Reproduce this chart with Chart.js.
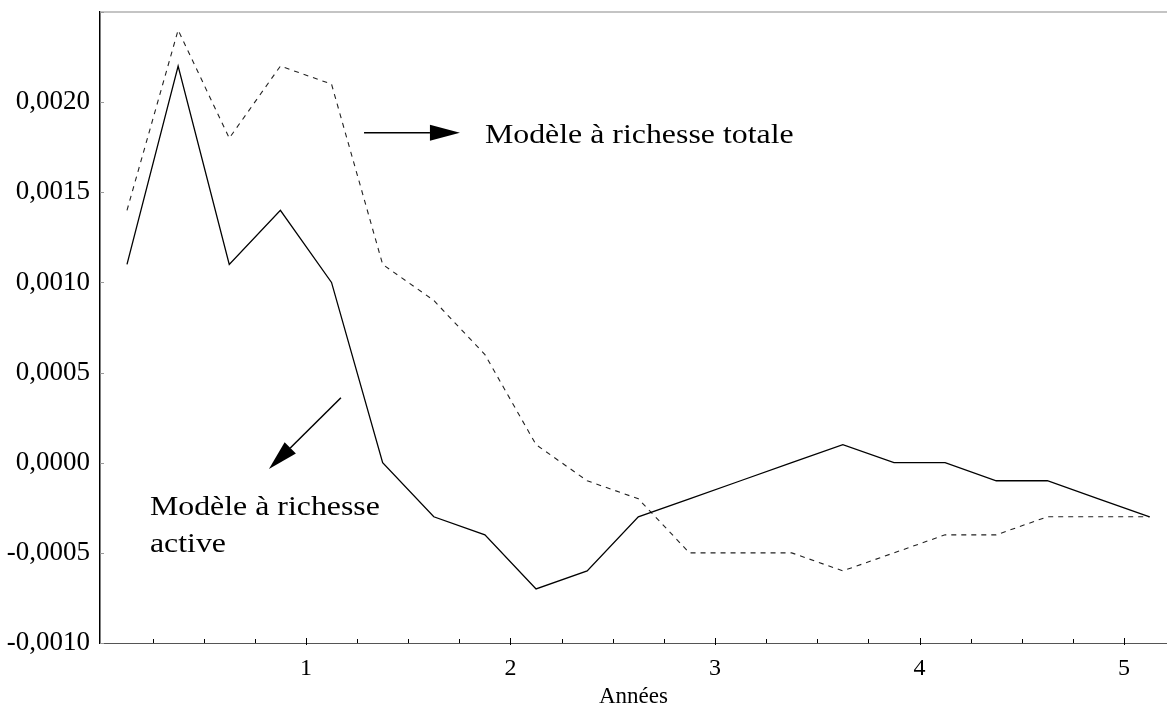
<!DOCTYPE html>
<html>
<head>
<meta charset="utf-8">
<script src="https://cdn.jsdelivr.net/npm/chart.js@4.4.1/dist/chart.umd.min.js"></script>
<style>
  html, body { margin: 0; padding: 0; background: #fff; }
  #chart { display: block; }
</style>
</head>
<body>
<canvas id="chart" width="1167" height="708"></canvas>
<script>
// Years (quarter midpoints)
const years = [0.125, 0.375, 0.625, 0.875, 1.125, 1.375, 1.625, 1.875, 2.125, 2.375, 2.625,
               2.875, 3.125, 3.375, 3.625, 3.875, 4.125, 4.375, 4.625, 4.875, 5.125];

// Modèle à richesse active (solid)
const richesseActive = [0.0011, 0.0022, 0.0011, 0.0014, 0.0010, 0.0000, -0.0003, -0.0004, -0.0007, -0.0006, -0.0003,
                        -0.0002, -0.0001, 0.0000, 0.0001, 0.0000, 0.0000, -0.0001, -0.0001, -0.0002, -0.0003];

// Modèle à richesse totale (dashed)
const richesseTotale = [0.0014, 0.0024, 0.0018, 0.0022, 0.0021, 0.0011, 0.0009, 0.0006, 0.0001, -0.0001, -0.0002,
                        -0.0005, -0.0005, -0.0005, -0.0006, -0.0005, -0.0004, -0.0004, -0.0003, -0.0003, -0.0003];

const yTicks = [-0.0010, -0.0005, 0.0000, 0.0005, 0.0010, 0.0015, 0.0020];
const xLabels = [1, 2, 3, 4, 5];

// annotations, in data units (text position = left edge / baseline of first line)
const notes = [
    { lines: ['Modèle à richesse totale'], x: 1.875, y: 0.001774, arrowFrom: [1.284, 0.00183], arrowTo: [1.753, 0.00183] },
    { lines: ['Modèle à richesse', 'active'], x: 0.237, y: -0.000292, arrowFrom: [1.171, 0.00036], arrowTo: [0.819, -0.000035] }
];

const serif = "'Liberation Serif', 'Times New Roman', serif";

function pts(vals) {
    return years.map((x, i) => ({ x, y: vals[i] }));
}

function drawArrow(ctx, x1, y1, x2, y2) {
    const ang = Math.atan2(y2 - y1, x2 - x1);
    const len = 30, half = 8;
    const bx = x2 - len * Math.cos(ang), by = y2 - len * Math.sin(ang);
    ctx.beginPath();
    ctx.moveTo(x1, y1);
    ctx.lineTo(bx, by);
    ctx.stroke();
    ctx.beginPath();
    ctx.moveTo(x2, y2);
    ctx.lineTo(bx - half * Math.sin(ang), by + half * Math.cos(ang));
    ctx.lineTo(bx + half * Math.sin(ang), by - half * Math.cos(ang));
    ctx.closePath();
    ctx.fill();
}

const decorations = {
    id: 'decorations',
    afterDraw(chart) {
        const ctx = chart.ctx;
        const xs = chart.scales.x, ys = chart.scales.y;
        const area = chart.chartArea;
        ctx.save();

        // top frame line
        ctx.strokeStyle = '#b0b0b0';
        ctx.lineWidth = 1.5;
        ctx.beginPath();
        ctx.moveTo(area.left, area.top);
        ctx.lineTo(area.right, area.top);
        ctx.stroke();

        // x tick marks (inside)
        ctx.strokeStyle = '#000';
        ctx.lineWidth = 1;
        xs.ticks.forEach(t => {
            if (t.value <= 0.01 || t.value >= xs.max) return;
            const px = Math.round(xs.getPixelForValue(t.value)) + 0.5;
            const major = Math.abs(t.value - Math.round(t.value)) < 1e-6;
            ctx.beginPath();
            ctx.moveTo(px, area.bottom + (major ? 2 : 0));
            ctx.lineTo(px, area.bottom - (major ? 5 : 4));
            ctx.stroke();
        });

        // y tick marks (inside)
        ctx.strokeStyle = '#999';
        ys.ticks.forEach(t => {
            const py = Math.round(ys.getPixelForValue(t.value)) + 0.5;
            ctx.beginPath();
            ctx.moveTo(area.left, py);
            ctx.lineTo(area.left + 4, py);
            ctx.stroke();
        });

        // annotations
        ctx.fillStyle = '#000';
        ctx.strokeStyle = '#000';
        ctx.lineWidth = 1.5;
        notes.forEach(n => {
            const tx = xs.getPixelForValue(n.x);
            const ty = ys.getPixelForValue(n.y);
            ctx.save();
            ctx.translate(tx, ty);
            ctx.scale(1.18, 1);
            ctx.font = '27px ' + serif;
            ctx.textAlign = 'left';
            ctx.textBaseline = 'alphabetic';
            n.lines.forEach((l, i) => ctx.fillText(l, 0, i * 37));
            ctx.restore();
            drawArrow(ctx,
                xs.getPixelForValue(n.arrowFrom[0]), ys.getPixelForValue(n.arrowFrom[1]),
                xs.getPixelForValue(n.arrowTo[0]), ys.getPixelForValue(n.arrowTo[1]));
        });
        ctx.restore();
    }
};

function noPad(s) {
    s.paddingTop = 0;
    s.paddingBottom = 0;
    s.paddingLeft = 0;
    s.paddingRight = 0;
}

new Chart(document.getElementById('chart'), {
    type: 'line',
    data: {
        datasets: [{
            label: 'Modèle à richesse active',
            data: pts(richesseActive),
            borderColor: '#000',
            borderWidth: 1.3,
            pointRadius: 0,
            tension: 0
        }, {
            label: 'Modèle à richesse totale',
            data: pts(richesseTotale),
            borderColor: '#222',
            borderWidth: 1.1,
            borderDash: [5, 5],
            pointRadius: 0,
            tension: 0
        }]
    },
    plugins: [decorations],
    options: {
        responsive: false,
        devicePixelRatio: 1,
        animation: false,
        layout: { padding: { top: 12, right: 0, left: 0, bottom: 0 } },
        plugins: {
            legend: { display: false },
            tooltip: { enabled: false }
        },
        scales: {
            x: {
                type: 'linear',
                min: -0.007,
                max: 5.21,
                afterFit: s => { s.height = 65; noPad(s); },
                ticks: {
                    stepSize: 0.25,
                    includeBounds: false,
                    autoSkip: false,
                    maxRotation: 0,
                    padding: 11,
                    color: '#000',
                    font: { family: serif, size: 24 },
                    callback: v => xLabels.some(l => Math.abs(l - v) < 1e-6) ? String(Math.round(v)) : ''
                },
                grid: { drawOnChartArea: false, drawTicks: false },
                border: { color: '#555', width: 1 },
                title: {
                    display: true,
                    text: 'Années',
                    color: '#000',
                    font: { family: serif, size: 23, lineHeight: 1 },
                    padding: { top: 0, bottom: 0 }
                }
            },
            y: {
                min: -0.001,
                max: 0.0025,
                afterFit: s => { s.width = 100; noPad(s); },
                ticks: {
                    stepSize: 0.0005,
                    padding: 10,
                    color: '#000',
                    font: { family: serif, size: 27 },
                    callback: v => yTicks.some(t => Math.abs(t - v) < 1e-9) ? v.toFixed(4).replace('.', ',') : ''
                },
                grid: { drawOnChartArea: false, drawTicks: false },
                border: { color: '#000', width: 1.5 }
            }
        }
    }
});
</script>
</body>
</html>
